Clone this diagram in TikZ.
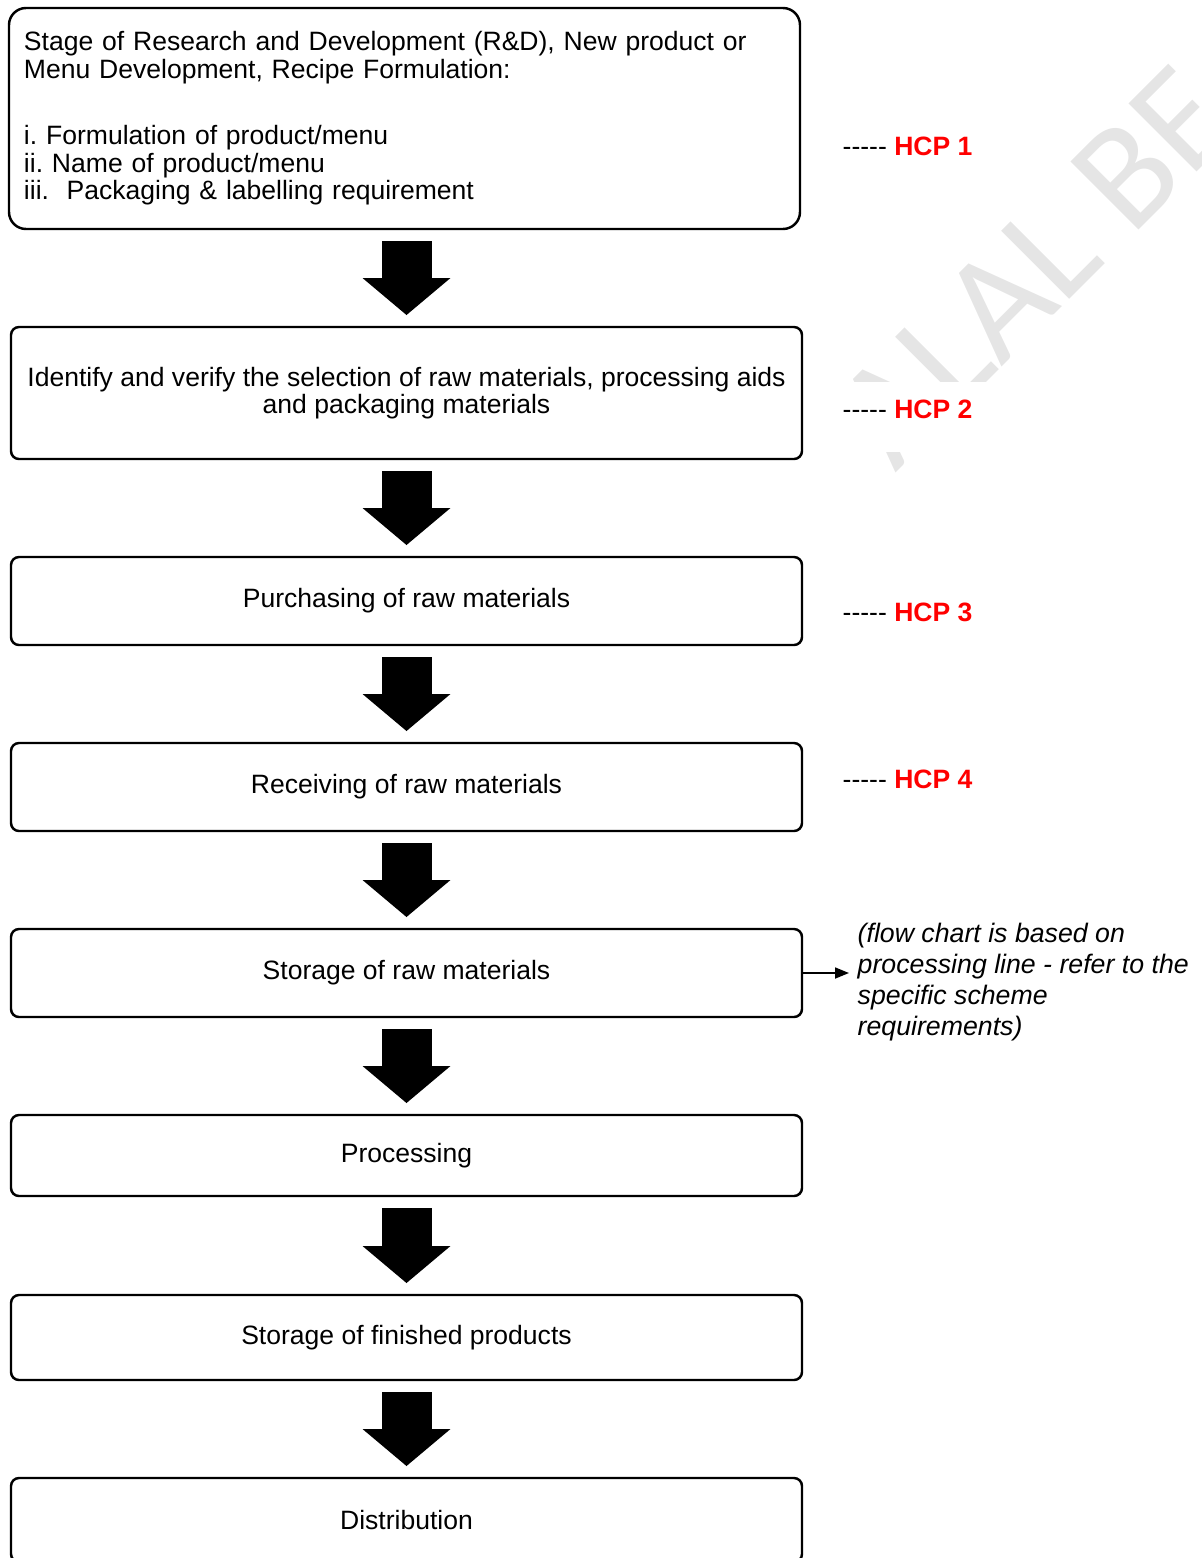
\documentclass[tikz,border=0pt]{standalone}
\usepackage{fontspec}
\setmainfont{Liberation Sans}
\newfontfamily\markfont{Carlito}
\usetikzlibrary{positioning,arrows.meta}
\frenchspacing

\begin{document}
\begin{tikzpicture}[
            stage/.style={draw, rectangle, line width=0.7pt, rounded corners=0.08cm, minimum width=7.91cm, outer sep=0pt, align=center, font=\fontsize{7.55}{7.8}\selectfont},
            flow/.style={line width=0.5cm, -{Triangle[length=0.37cm, width=0.88cm, line width=0pt]}},
            hcp/.style={inner xsep=0pt, font=\fontsize{7.55}{9}\selectfont},
            remark/.style={align=left, inner xsep=0pt, font=\fontsize{7.6}{8.8}\selectfont\itshape},
            pointer/.style={-{Triangle[length=0.14cm, width=0.11cm]}, line width=0.5pt, shorten >=0.08cm},
            watermark/.style={rotate=45, anchor=base west, inner sep=0pt, text=black!10, font=\markfont\fontsize{42.7}{44}\selectfont}
        ]
            \useasboundingbox (0,0) rectangle (12.02,-15.58);
            \clip (0,0) rectangle (12.02,-15.58);

            % faint background mark
            \node (mark) [watermark] at (8.95,-4.74) {ALAL BE};

            \node (rnd) [stage, rounded corners=0.17cm, minimum height=2.21cm, text width=7.61cm, inner xsep=0.15cm, align=left, font=\fontsize{7.55}{7.9}\selectfont] at (4.045,-1.185) {Stage of Research and Development (R\&D), New product or\\Menu Development, Recipe Formulation:\\[0.38cm]i. Formulation of product/menu\\ii. Name of product/menu\\iii.\ \ Packaging \& labelling requirement};
            \node (select) [stage, minimum height=1.32cm, below=0.98cm of rnd, xshift=0.02cm] {Identify and verify the selection of raw materials, processing aids\\and packaging materials};
            \node (purchase) [stage, minimum height=0.88cm, below=0.98cm of select] {Purchasing of raw materials};
            \node (receive) [stage, minimum height=0.88cm, below=0.98cm of purchase] {Receiving of raw materials};
            \node (store) [stage, minimum height=0.88cm, below=0.98cm of receive] {Storage of raw materials};
            \node (process) [stage, minimum height=0.81cm, below=0.98cm of store] {Processing};
            \node (finished) [stage, minimum height=0.85cm, below=0.99cm of process] {Storage of finished products};
            \node (distrib) [stage, minimum height=0.84cm, below=0.98cm of finished] {Distribution};

            \draw [flow] ([yshift=-0.12cm]rnd.south -| select.north) -- ([yshift=0.12cm]select.north);
            \draw [flow] ([yshift=-0.12cm]select.south) -- ([yshift=0.12cm]purchase.north);
            \draw [flow] ([yshift=-0.12cm]purchase.south) -- ([yshift=0.12cm]receive.north);
            \draw [flow] ([yshift=-0.12cm]receive.south) -- ([yshift=0.12cm]store.north);
            \draw [flow] ([yshift=-0.12cm]store.south) -- ([yshift=0.12cm]process.north);
            \draw [flow] ([yshift=-0.12cm]process.south) -- ([yshift=0.12cm]finished.north);
            \draw [flow] ([yshift=-0.12cm]finished.south) -- ([yshift=0.12cm]distrib.north);

            % control point labels
            \fill [white] ([xshift=0.33cm, yshift=-0.55cm]select.north east) rectangle ([xshift=1.98cm, yshift=-1.25cm]select.north east);
            \node (hcpone) [hcp, right=0.42cm of rnd, yshift=-0.275cm] {-{}-{}-{}-{}- \textcolor{red}{\textbf{HCP 1}}};
            \node (hcptwo) [hcp, right=0.40cm of select, yshift=-0.16cm] {-{}-{}-{}-{}- \textcolor{red}{\textbf{HCP 2}}};
            \node (hcpthree) [hcp, right=0.40cm of purchase, yshift=-0.11cm] {-{}-{}-{}-{}- \textcolor{red}{\textbf{HCP 3}}};
            \node (hcpfour) [hcp, right=0.40cm of receive, yshift=0.08cm] {-{}-{}-{}-{}- \textcolor{red}{\textbf{HCP 4}}};

            \node (scheme) [remark, right=0.55cm of store, yshift=-0.09cm] {(flow chart is based on\\processing line - refer to the\\specific scheme\\requirements)};
            \draw [pointer] (store.east) -- (store.east -| scheme.west);
        \end{tikzpicture}
\end{document}
